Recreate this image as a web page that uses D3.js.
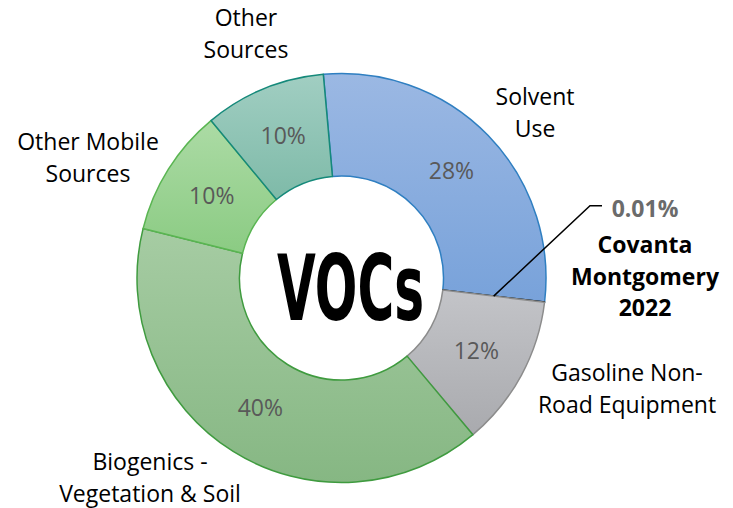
<!DOCTYPE html>
<html>
<head>
<meta charset="utf-8">
<script src="https://cdn.jsdelivr.net/npm/d3@7"></script>
<style>
  body { margin: 0; background: #fff; }
  svg { display: block; }
  text { font-family: "Open Sans", "Noto Sans", sans-serif; }
</style>
</head>
<body>
<div id="chart"></div>
<script>
let width = 733,
  height = 508;

// data
let categories = ["Solvent Use", "Covanta Montgomery 2022", "Gasoline Non-Road Equipment",
  "Biogenics - Vegetation & Soil", "Other Mobile Sources", "Other Sources"];
let values = [28.3, 0.01, 12.0, 40.0, 10.1, 9.6];
let pctLabels = ["28%", "0.01%", "12%", "40%", "10%", "10%"];
let nameLines = [["Solvent", "Use"], ["Covanta", "Montgomery", "2022"], ["Gasoline Non-", "Road Equipment"],
  ["Biogenics -", "Vegetation & Soil"], ["Other Mobile", "Sources"], ["Other", "Sources"]];

let fillTop = ["#9bb8e3", "#000000", "#c3c4c8", "#a6cca3", "#acdba5", "#a1cec2"];
let fillBot = ["#78a2da", "#000000", "#a9aaae", "#86b783", "#8bcb83", "#7ebaa8"];
let strokes = ["#2f7fc1", "#000000", "#8c8c8c", "#3f9b3f", "#5ab552", "#15897a"];

let cx = 341.5, cy = 278, R = 204.5, r = 102;
let startDeg = -5.1;

let svg = d3.select("#chart").append("svg")
  .attr("width", width)
  .attr("height", height);

let defs = svg.append("defs");
categories.forEach(function (c, i) {
  let g = defs.append("linearGradient")
    .attr("id", "grad" + i)
    .attr("x1", 0).attr("y1", 0).attr("x2", 0).attr("y2", 1);
  g.append("stop").attr("offset", "0%").attr("stop-color", fillTop[i]);
  g.append("stop").attr("offset", "100%").attr("stop-color", fillBot[i]);
});

let pie = d3.pie()
  .sort(null)
  .value(function (d) { return d; })
  .startAngle(startDeg * Math.PI / 180)
  .endAngle((startDeg + 360) * Math.PI / 180);

let arc = d3.arc().innerRadius(r).outerRadius(R);
let arcs = pie(values);

let g = svg.append("g").attr("transform", "translate(" + cx + "," + cy + ")");

g.selectAll("path")
  .data(arcs)
  .enter()
  .append("path")
  .attr("d", arc)
  .attr("fill", function (d, i) { return "url(#grad" + i + ")"; })
  .attr("stroke", function (d, i) { return strokes[i]; })
  .attr("stroke-width", 1.5)
  .attr("stroke-linejoin", "round");

// percentage labels inside the ring (skip the tiny slice)
g.selectAll("text.pct")
  .data(arcs.filter(function (d, i) { return i != 1; }))
  .enter()
  .append("text")
  .attr("class", "pct")
  .attr("x", function (d) { return arc.centroid(d)[0]; })
  .attr("y", function (d) { return arc.centroid(d)[1] + 8; })
  .attr("text-anchor", "middle")
  .attr("font-size", 23)
  .attr("fill", "#595959")
  .text(function (d) { return pctLabels[d.index]; });

// category labels (centre of first line)
let labelPos = [[535, 97], [645, 245], [627, 373], [150, 462], [88, 142], [246, 18]];
let lineGap = 31.5;

categories.forEach(function (c, i) {
  let t = svg.append("text")
    .attr("text-anchor", "middle")
    .attr("font-size", 23)
    .attr("fill", "#000")
    .attr("font-weight", i == 1 ? "bold" : "normal");
  nameLines[i].forEach(function (line, k) {
    t.append("tspan")
      .attr("x", labelPos[i][0])
      .attr("y", labelPos[i][1] + 8 + k * lineGap)
      .text(line);
  });
});

// Covanta value + leader line
svg.append("text")
  .attr("x", 645)
  .attr("y", 217)
  .attr("text-anchor", "middle")
  .attr("font-size", 23)
  .attr("font-weight", "bold")
  .attr("fill", "#6b6b6b")
  .text(pctLabels[1]);

let c1 = arc.centroid(arcs[1]);
svg.append("polyline")
  .attr("points", [[cx + c1[0], cy + c1[1]], [590, 205.7], [602, 205.7]].map(function (p) { return p.join(","); }).join(" "))
  .attr("fill", "none")
  .attr("stroke", "#000")
  .attr("stroke-width", 1.5);

// centre title, squeezed horizontally to look condensed
let title = svg.append("text")
  .attr("x", 0)
  .attr("y", 0)
  .attr("text-anchor", "middle")
  .style("font-family", "'DejaVu Sans Condensed', 'DejaVu Sans', sans-serif")
  .attr("font-weight", "bold")
  .attr("font-size", 90)
  .attr("fill", "#000")
  .text("VOCs");
let tw = title.node().getComputedTextLength();
title.attr("transform", "translate(350.5,320) scale(" + (147 / tw) + ",1)");
</script>
</body>
</html>
